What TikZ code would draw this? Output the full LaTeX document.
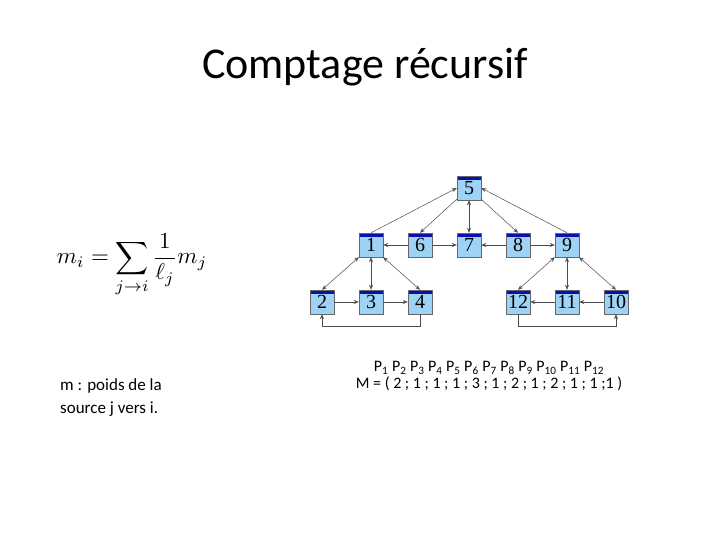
\documentclass[tikz,border=0pt]{standalone}
\usepackage{fontspec}
\setmainfont{Carlito}
\usetikzlibrary{arrows.meta}
\definecolor{boxfill}{HTML}{9FD3F5}
\definecolor{boxbar}{HTML}{0A10B0}
\begin{document}
\begin{tikzpicture}[x=1pt,y=-1pt,
 bx/.style={draw=black!60,fill=boxfill,minimum width=24pt,minimum height=24pt,inner sep=0pt,
   font=\fontspec{Liberation Serif}\fontsize{20}{20}\selectfont,
   path picture={\fill[boxbar] (path picture bounding box.north west) rectangle ([yshift=-4pt]path picture bounding box.north east);}},
 ar/.style={draw=black!70,line width=0.5pt,-{Stealth[length=5pt,width=4pt]}},
 ba/.style={draw=black!70,line width=0.5pt,{Stealth[length=5pt,width=4pt]}-{Stealth[length=5pt,width=4pt]}}]
\useasboundingbox (0,0) rectangle (720,540);
\node[font=\fontsize{44}{44}\selectfont] (title) at (365,67) {Comptage récursif};
\node (n5) [bx] at (469,188) {5};
\node (n1) [bx] at (371,245) {1};
\node (n6) [bx] at (420,245) {6};
\node (n7) [bx] at (469,245) {7};
\node (n8) [bx] at (518,245) {8};
\node (n9) [bx] at (567,245) {9};
\node (n2) [bx] at (322,302) {2};
\node (n3) [bx] at (371,302) {3};
\node (n4) [bx] at (420,302) {4};
\node (n12) [bx] at (518,302) {12};
\node (n11) [bx] at (567,302) {11};
\node (n10) [bx] at (616,302) {10};
\draw[ar] (n1.north) -- (n5.west);
\draw[ar] (n5) -- (n6.north);
\draw[ba] (n5) -- (n7);
\draw[ar] (n5) -- (n8.north);
\draw[ar] (n9.north) -- (n5.east);
\draw[ar] (n6) -- (n1);
\draw[ar] (n6) -- (n7);
\draw[ar] (n8) -- (n7);
\draw[ar] (n8) -- (n9);
\draw[ba] (n1.south west) -- (n2.north);
\draw[ba] (n1) -- (n3);
\draw[ba] (n1.south east) -- (n4.north);
\draw[ar] (n2) -- (n3);
\draw[ar] (n3) -- (n4);
\draw[ar] (n4.south) -- ++(0,12) -| (n2.south);
\draw[ba] (n9.south west) -- (n12.north);
\draw[ba] (n9) -- (n11);
\draw[ba] (n9.south east) -- (n10.north);
\draw[ar] (n10) -- (n11);
\draw[ar] (n11) -- (n12);
\draw[ar] (n12.south) -- ++(0,12) -| (n10.south);
\node[scale=2.3] (eq) at (132,265)
 {$\displaystyle m_i = \sum_{j\to i}\frac{1}{\ell_j}m_j$};
\node[align=left,anchor=north west,font=\fontsize{17}{23}\selectfont,inner sep=0pt] (legend) at (60,378)
 {m : poids de la\\source j vers i.};
\node[align=center,font=\fontsize{16}{17}\selectfont,inner sep=0pt] (pm) at (489,376)
 {P\textsubscript{1} P\textsubscript{2} P\textsubscript{3} P\textsubscript{4} P\textsubscript{5} P\textsubscript{6} P\textsubscript{7} P\textsubscript{8} P\textsubscript{9} P\textsubscript{10} P\textsubscript{11} P\textsubscript{12}\\
 M = ( 2 ; 1 ; 1 ; 1 ; 3 ; 1 ; 2 ; 1 ; 2 ; 1 ; 1 ;1 )};
\end{tikzpicture}
\end{document}
